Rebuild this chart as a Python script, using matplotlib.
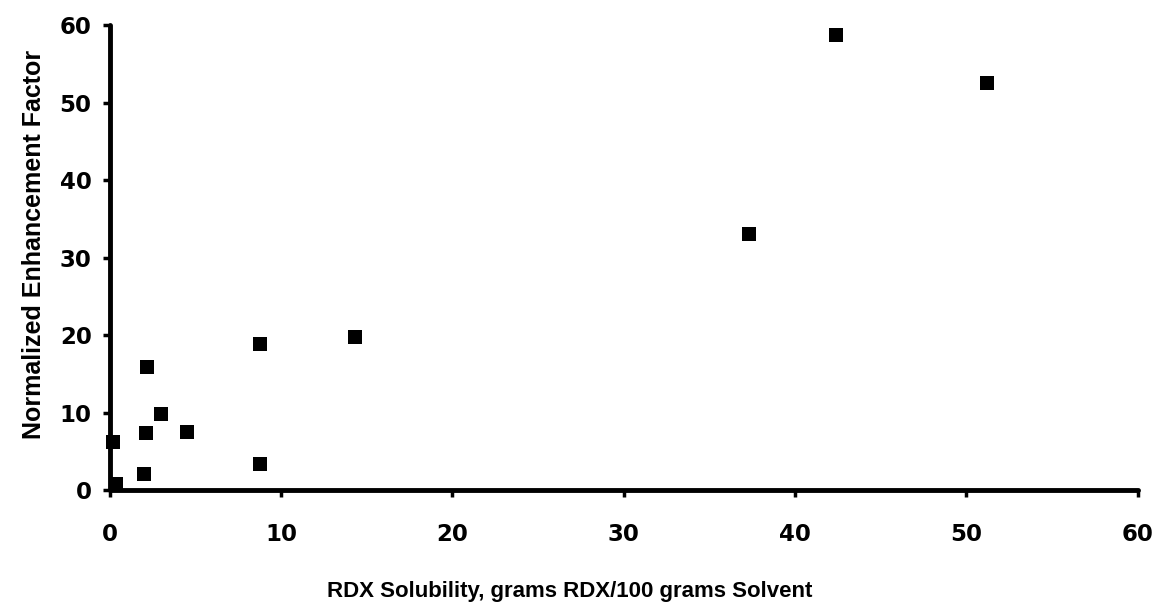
import matplotlib
matplotlib.use("Agg")
from matplotlib import pyplot as plt

# data
solubility = [0.2, 0.35, 2.0, 2.15, 2.1, 3.0, 4.5, 8.8, 8.8, 14.3, 37.3, 42.4, 51.2]
enhancement = [6.2, 0.8, 2.1, 15.9, 7.4, 9.8, 7.5, 18.9, 3.4, 19.7, 33.0, 58.8, 52.5]
ticks = [0, 10, 20, 30, 40, 50, 60]

plt.rcParams['font.family'] = ['Liberation Sans', 'DejaVu Sans']
plt.rcParams['font.weight'] = 'bold'

fig = plt.figure(figsize=(11.55, 6.02), dpi=100)
ax = fig.add_axes([0.095, 0.186, 0.89, 0.772])

ax.scatter(solubility, enhancement, marker='s', s=95, color='black',
           zorder=5, clip_on=False, linewidths=0)

ax.set_xlim(0, 60)
ax.set_ylim(0, 60)
ax.set_xticks(ticks)
ax.set_yticks(ticks)

for side in ['top', 'right']:
    ax.spines[side].set_visible(False)
for side in ['left', 'bottom']:
    ax.spines[side].set_linewidth(3.5)
    ax.spines[side].set_capstyle('round')

ax.tick_params(axis='both', direction='out', length=5, width=2.5)
ax.tick_params(axis='x', pad=19)
ax.tick_params(axis='y', pad=8)
for lbl in ax.get_xticklabels() + ax.get_yticklabels():
    lbl.set_fontfamily('DejaVu Sans')
    lbl.set_fontweight('bold')
    lbl.set_fontsize(16.5)

ax.set_xlabel("RDX Solubility, grams RDX/100 grams Solvent",
              fontsize=16, fontweight='bold')
ax.xaxis.set_label_coords(0.447, -0.195)
ax.set_ylabel("Normalized Enhancement Factor", fontsize=18, fontweight='bold')
ax.yaxis.set_label_coords(-0.062, 0.529)

fig.savefig("out.png", dpi=100)
